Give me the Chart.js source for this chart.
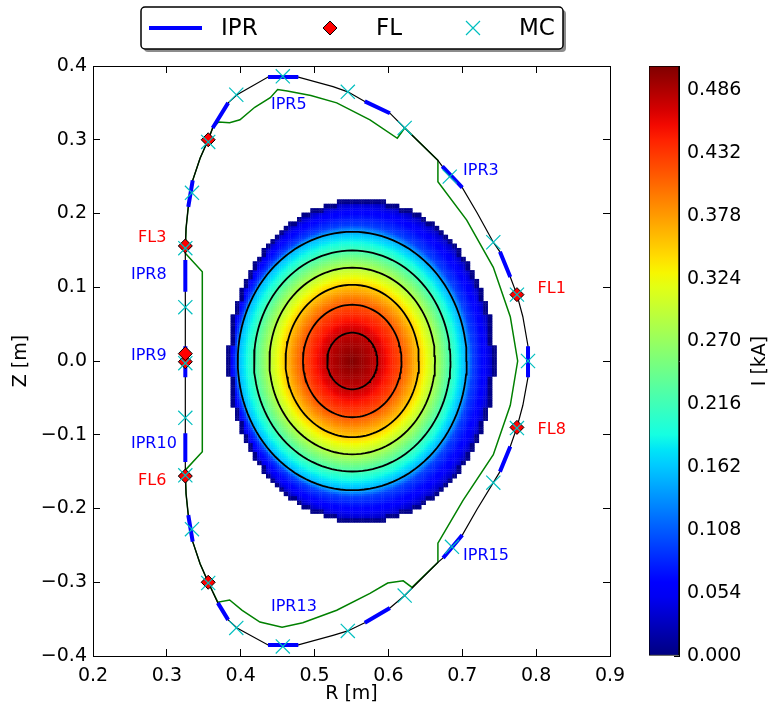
<!DOCTYPE html>
<html>
<head>
<meta charset="utf-8">
<script src="https://cdn.jsdelivr.net/npm/chart.js@4.4.0/dist/chart.umd.min.js"></script>
<style>
  html, body { margin: 0; padding: 0; background: #fff; }
  #wrap { position: relative; width: 771px; height: 713px; }
  #wrap canvas { position: absolute; left: 0; top: 0; }
</style>
</head>
<body>
<div id="wrap">
  <canvas id="fluxChart" width="771" height="713"></canvas>
  <canvas id="colorBar" width="771" height="713"></canvas>
</div>
<script>
// ---- data (R, Z in metres, I in kA) ----
const rTicks = [0.2, 0.3, 0.4, 0.5, 0.6, 0.7, 0.8, 0.9];
const zTicks = [-0.4, -0.3, -0.2, -0.1, 0.0, 0.1, 0.2, 0.3, 0.4];
const cbTicks = [0.000, 0.054, 0.108, 0.162, 0.216, 0.270, 0.324, 0.378, 0.432, 0.486];
const cbMax = 0.5066;

// vacuum vessel (black)
const vesselR = [0.789, 0.789, 0.782, 0.774, 0.765, 0.751, 0.742, 0.720, 0.700, 0.683, 0.673, 0.667, 0.622, 0.602, 0.568, 0.545, 0.525, 0.478, 0.437, 0.395, 0.383, 0.362, 0.356, 0.345, 0.335, 0.329, 0.326, 0.325, 0.325, 0.325, 0.326, 0.329, 0.335, 0.345, 0.356, 0.369, 0.383, 0.395, 0.437, 0.478, 0.525, 0.545, 0.568, 0.602, 0.622, 0.667, 0.674, 0.686, 0.700, 0.720, 0.742, 0.751, 0.765, 0.774, 0.782, 0.789, 0.789];
const vesselZ = [0.000, 0.020, 0.060, 0.090, 0.114, 0.148, 0.161, 0.201, 0.235, 0.250, 0.264, 0.272, 0.316, 0.336, 0.352, 0.365, 0.372, 0.385, 0.385, 0.361, 0.350, 0.316, 0.300, 0.275, 0.245, 0.209, 0.180, 0.156, 0.000, -0.156, -0.180, -0.209, -0.245, -0.275, -0.300, -0.328, -0.351, -0.362, -0.385, -0.385, -0.372, -0.366, -0.355, -0.335, -0.318, -0.273, -0.267, -0.252, -0.236, -0.201, -0.165, -0.150, -0.116, -0.090, -0.060, -0.022, 0.000];

// first wall / limiter (green)
const limiterR = [0.775, 0.765, 0.742, 0.706, 0.667, 0.667, 0.622, 0.612, 0.575, 0.530, 0.495, 0.463, 0.450, 0.440, 0.419, 0.399, 0.385, 0.370, 0.362, 0.356, 0.345, 0.335, 0.329, 0.326, 0.325, 0.348, 0.348, 0.325, 0.326, 0.329, 0.335, 0.345, 0.356, 0.369, 0.385, 0.402, 0.426, 0.456, 0.484, 0.530, 0.575, 0.599, 0.620, 0.632, 0.667, 0.667, 0.701, 0.742, 0.765, 0.775];
const limiterZ = [0.000, 0.060, 0.127, 0.191, 0.243, 0.272, 0.316, 0.302, 0.327, 0.350, 0.360, 0.366, 0.368, 0.357, 0.344, 0.327, 0.323, 0.324, 0.316, 0.300, 0.275, 0.245, 0.209, 0.180, 0.146, 0.121, -0.123, -0.148, -0.180, -0.209, -0.245, -0.275, -0.300, -0.327, -0.324, -0.338, -0.354, -0.361, -0.355, -0.338, -0.315, -0.301, -0.298, -0.307, -0.273, -0.247, -0.189, -0.127, -0.060, 0.000];

// partial Rogowski coils IPR1..IPR16 (start / end of each segment)
const iprStartR = [0.789, 0.765, 0.700, 0.602, 0.478, 0.383, 0.335, 0.325, 0.325, 0.325, 0.329, 0.369, 0.437, 0.568, 0.674, 0.751];
const iprStartZ = [-0.022, 0.114, 0.235, 0.336, 0.385, 0.350, 0.245, 0.137, 0.020, -0.098, -0.209, -0.328, -0.385, -0.355, -0.267, -0.150];
const iprEndR = [0.789, 0.751, 0.673, 0.568, 0.437, 0.362, 0.329, 0.325, 0.325, 0.325, 0.335, 0.383, 0.478, 0.602, 0.700, 0.765];
const iprEndZ = [0.020, 0.148, 0.264, 0.352, 0.385, 0.316, 0.209, 0.094, -0.022, -0.137, -0.245, -0.351, -0.385, -0.335, -0.236, -0.116];

// flux loops
const flR = [0.774, 0.356, 0.325, 0.325, 0.325, 0.325, 0.356, 0.774];
const flZ = [0.090, 0.300, 0.156, -0.001, 0.010, -0.156, -0.300, -0.090];

// magnetic coils
const mcR = [0.789, 0.774, 0.742, 0.683, 0.622, 0.545, 0.457, 0.394, 0.356, 0.334, 0.325, 0.325, 0.325, 0.325, 0.325, 0.334, 0.356, 0.394, 0.457, 0.545, 0.622, 0.686, 0.742, 0.774];
const mcZ = [0.000, 0.090, 0.161, 0.250, 0.316, 0.365, 0.386, 0.361, 0.297, 0.228, 0.153, 0.073, -0.003, -0.077, -0.155, -0.228, -0.301, -0.362, -0.387, -0.366, -0.318, -0.252, -0.165, -0.091];

// plasma current: black contours (ellipses) and their levels
const plasmaR0 = 0.551;
const contourA = [0.0340, 0.0667, 0.0903, 0.1121, 0.1330, 0.1550];
const contourB = [0.0384, 0.0763, 0.1033, 0.1265, 0.1498, 0.1752];
const contourLevels = [0.478, 0.418, 0.354, 0.288, 0.218, 0.150];
const peakCurrent = 0.506;
// outer band between last contour and the grid edge
const edgeR0 = 0.5635, edgeA = 0.181, edgeB = 0.220;
const edgeFrac = [0, 0.2, 0.6, 0.85, 1];
const edgeCurrent = [0.150, 0.095, 0.060, 0.035, 0.015];
const rimCurrent = 0.004;
const cellSize = 0.006;

const sensorLabels = [
  { text: 'IPR5', r: 0.441, z: 0.348, color: '#0000ff' },
  { text: 'IPR3', r: 0.701, z: 0.258, color: '#0000ff' },
  { text: 'FL1', r: 0.802, z: 0.098, color: '#ff0000' },
  { text: 'FL3', r: 0.261, z: 0.167, color: '#ff0000' },
  { text: 'IPR8', r: 0.2514, z: 0.117, color: '#0000ff' },
  { text: 'IPR9', r: 0.2514, z: 0.007, color: '#0000ff' },
  { text: 'IPR10', r: 0.2514, z: -0.113, color: '#0000ff' },
  { text: 'FL6', r: 0.261, z: -0.162, color: '#ff0000' },
  { text: 'FL8', r: 0.802, z: -0.094, color: '#ff0000' },
  { text: 'IPR15', r: 0.701, z: -0.264, color: '#0000ff' },
  { text: 'IPR13', r: 0.441, z: -0.334, color: '#0000ff' }
];

// ---- helpers ----
Chart.defaults.font.family = '"DejaVu Sans", sans-serif';
Chart.defaults.color = '#000';

const jetR = [[0, 0], [0.35, 0], [0.66, 1], [0.89, 1], [1, 0.5]];
const jetG = [[0, 0], [0.125, 0], [0.375, 1], [0.64, 1], [0.91, 0], [1, 0]];
const jetB = [[0, 0.5], [0.11, 1], [0.34, 1], [0.65, 0], [1, 0]];
function interp(xs, ys, x) {
  if (x <= xs[0]) return ys[0];
  for (let i = 1; i < xs.length; i++) {
    if (x <= xs[i]) return ys[i - 1] + (ys[i] - ys[i - 1]) * (x - xs[i - 1]) / (xs[i] - xs[i - 1]);
  }
  return ys[ys.length - 1];
}
function chan(tab, t) { return interp(tab.map(p => p[0]), tab.map(p => p[1]), t); }
function jet(t) {
  t = Math.min(1, Math.max(0, t));
  return 'rgb(' + Math.round(255 * chan(jetR, t)) + ',' + Math.round(255 * chan(jetG, t)) + ',' + Math.round(255 * chan(jetB, t)) + ')';
}

const nC = contourA.length;
const profileRho = [0].concat(contourA.map(a => a / contourA[nC - 1]));
const profileI = [peakCurrent].concat(contourLevels);
function plasmaCurrent(r, z) {
  const rhoIn = Math.hypot((r - plasmaR0) / contourA[nC - 1], z / contourB[nC - 1]);
  if (rhoIn <= 1) return interp(profileRho, profileI, rhoIn);
  const rhoOut = Math.hypot((r - edgeR0) / edgeA, z / edgeB);
  const f = (1 - 1 / rhoIn) / (1 / rhoOut - 1 / rhoIn);
  return interp(edgeFrac, edgeCurrent, f);
}

// grid cells of the current map (coarse mask, 2x2 sub-cells for a smooth fill)
const inGrid = (i, j) => ((i * cellSize) / edgeA) ** 2 + ((j * cellSize) / edgeB) ** 2 <= 1;
const plasmaPts = [], plasmaColors = [];
for (let i = -32; i <= 32; i++) {
  for (let j = -38; j <= 38; j++) {
    if (!inGrid(i, j)) continue;
    const rim = !inGrid(i - 1, j) || !inGrid(i + 1, j) || !inGrid(i, j - 1) || !inGrid(i, j + 1);
    const rc = edgeR0 + i * cellSize, zc = j * cellSize;
    for (const di of [-0.25, 0.25]) {
      for (const dj of [-0.25, 0.25]) {
        const r = rc + di * cellSize, z = zc + dj * cellSize;
        plasmaPts.push({ x: r, y: z });
        plasmaColors.push(jet((rim ? rimCurrent : plasmaCurrent(r, z)) / cbMax));
      }
    }
  }
}

const contourPts = [];
contourA.forEach((a, k) => {
  for (let s = 0; s <= 120; s++) {
    const th = 2 * Math.PI * s / 120;
    contourPts.push({ x: plasmaR0 + a * Math.cos(th), y: contourB[k] * Math.sin(th) });
  }
  contourPts.push({ x: null, y: null });
});

const iprPts = [];
iprStartR.forEach((r, i) => {
  iprPts.push({ x: r, y: iprStartZ[i] }, { x: iprEndR[i], y: iprEndZ[i] }, { x: null, y: null });
});

const toPts = (rs, zs) => rs.map((r, i) => ({ x: r, y: zs[i] }));
const fmt1 = v => v.toFixed(1).replace('-', '\u2212');

function frameAxis(position, ticks, showLabels) {
  const horizontal = position === 'top' || position === 'bottom';
  return {
    type: 'linear',
    position: position,
    min: horizontal ? 0.2 : -0.4,
    max: horizontal ? 0.9 : 0.4,
    afterBuildTicks: s => { s.ticks = ticks.map(v => ({ value: v })); },
    afterFit: s => {
      const size = showLabels ? (horizontal ? 57 : 93) : 0;
      if (horizontal) s.height = size; else s.width = size;
    },
    ticks: {
      display: showLabels,
      font: { size: 19 },
      padding: horizontal ? 16 : 13,
      callback: v => fmt1(v)
    },
    grid: { drawOnChartArea: false, drawTicks: true, tickLength: -7, color: '#000', lineWidth: 1 },
    border: { display: true, color: '#000', width: 1 },
    title: showLabels ? {
      display: true,
      text: horizontal ? 'R [m]' : 'Z [m]',
      font: { size: 19 },
      padding: horizontal ? { top: 0, bottom: 7.6 } : { top: 9.6, bottom: 0 }
    } : { display: false }
  };
}

const sensorLabelPlugin = {
  id: 'sensorLabels',
  afterDatasetsDraw(chart) {
    const { ctx, scales } = chart;
    ctx.save();
    ctx.font = '16px "DejaVu Sans"';
    ctx.textAlign = 'left';
    ctx.textBaseline = 'middle';
    sensorLabels.forEach(l => {
      ctx.fillStyle = l.color;
      ctx.fillText(l.text, scales.x.getPixelForValue(l.r), scales.y.getPixelForValue(l.z));
    });
    ctx.restore();
  }
};

const legendBoxPlugin = {
  id: 'legendBox',
  afterDraw(chart) {
    const ctx = chart.ctx;
    const bx = 141, by = 7, bw = 422, bh = 42;
    ctx.save();
    // shadow
    ctx.fillStyle = 'rgba(0,0,0,0.45)';
    ctx.beginPath();
    ctx.roundRect(bx + 3, by + 3, bw, bh, 4);
    ctx.fill();
    // frame
    ctx.fillStyle = '#fff';
    ctx.strokeStyle = '#000';
    ctx.lineWidth = 1.5;
    ctx.beginPath();
    ctx.roundRect(bx, by, bw, bh, 4);
    ctx.fill();
    ctx.stroke();
    const cy = by + bh / 2;
    // IPR
    ctx.strokeStyle = '#0000ff';
    ctx.lineWidth = 4;
    ctx.beginPath();
    ctx.moveTo(149, cy);
    ctx.lineTo(202, cy);
    ctx.stroke();
    // FL
    ctx.fillStyle = '#ff0000';
    ctx.strokeStyle = '#000';
    ctx.lineWidth = 1;
    ctx.beginPath();
    ctx.moveTo(330 - 7, cy);
    ctx.lineTo(330, cy - 7);
    ctx.lineTo(330 + 7, cy);
    ctx.lineTo(330, cy + 7);
    ctx.closePath();
    ctx.fill();
    ctx.stroke();
    // MC
    ctx.strokeStyle = '#00bfbf';
    ctx.lineWidth = 1.2;
    ctx.beginPath();
    ctx.moveTo(473 - 7, cy - 7); ctx.lineTo(473 + 7, cy + 7);
    ctx.moveTo(473 + 7, cy - 7); ctx.lineTo(473 - 7, cy + 7);
    ctx.stroke();
    ctx.fillStyle = '#000';
    ctx.font = '23px "DejaVu Sans"';
    ctx.textAlign = 'left';
    ctx.textBaseline = 'middle';
    ctx.fillText('IPR', 221, cy + 1);
    ctx.fillText('FL', 376, cy + 1);
    ctx.fillText('MC', 519, cy + 1);
    ctx.restore();
  }
};

new Chart(document.getElementById('fluxChart'), {
  type: 'scatter',
  data: {
    datasets: [
      { label: 'MC', data: toPts(mcR, mcZ), pointStyle: 'crossRot', pointRadius: 10, borderColor: '#00bfbf', backgroundColor: '#00bfbf', borderWidth: 1.2 },
      { label: 'FL', data: toPts(flR, flZ), pointStyle: 'rectRot', pointRadius: 7, backgroundColor: '#ff0000', borderColor: '#000', borderWidth: 1 },
      { label: 'IPR', data: iprPts, showLine: true, spanGaps: false, borderColor: '#0000ff', borderWidth: 4, borderCapStyle: 'butt', pointRadius: 0 },
      { label: 'vessel', data: toPts(vesselR, vesselZ), showLine: true, borderColor: '#000', borderWidth: 1.2, pointRadius: 0 },
      { label: 'limiter', data: toPts(limiterR, limiterZ), showLine: true, borderColor: '#008000', borderWidth: 1.5, pointRadius: 0 },
      { label: 'contours', data: contourPts, showLine: true, spanGaps: false, borderColor: '#000', borderWidth: 1.8, pointRadius: 0 },
      { label: 'current', data: plasmaPts, pointStyle: 'rect', pointRadius: 1.85, backgroundColor: plasmaColors, borderWidth: 0 }
    ]
  },
  options: {
    responsive: false,
    animation: false,
    events: [],
    layout: { padding: { left: 0, right: 161, top: 66, bottom: 0 } },
    plugins: { legend: { display: false }, tooltip: { enabled: false } },
    scales: {
      x: frameAxis('bottom', rTicks, true),
      y: frameAxis('left', zTicks, true),
      x2: frameAxis('top', rTicks, false),
      y2: frameAxis('right', zTicks, false)
    }
  },
  plugins: [sensorLabelPlugin, legendBoxPlugin]
});

// ---- colour bar ----
function jetGradient(chart) {
  const area = chart.chartArea;
  if (!area) return jet(0.5);
  const g = chart.ctx.createLinearGradient(0, area.bottom, 0, area.top);
  for (let k = 0; k <= 40; k++) g.addColorStop(k / 40, jet(k / 40));
  return g;
}

new Chart(document.getElementById('colorBar'), {
  type: 'bar',
  data: {
    labels: ['I'],
    datasets: [{
      data: [[0, cbMax]],
      backgroundColor: c => jetGradient(c.chart),
      borderColor: '#000',
      borderWidth: 1,
      borderSkipped: false,
      barPercentage: 1,
      categoryPercentage: 1
    }]
  },
  options: {
    responsive: false,
    animation: false,
    events: [],
    layout: { padding: { left: 649, right: 0, top: 66, bottom: 57 } },
    plugins: { legend: { display: false }, tooltip: { enabled: false } },
    scales: {
      x: { display: false },
      y: {
        position: 'right',
        min: 0,
        max: cbMax,
        afterBuildTicks: s => { s.ticks = cbTicks.map(v => ({ value: v })); },
        afterFit: s => { s.width = 92; },
        ticks: { font: { size: 19 }, padding: 13, callback: v => v.toFixed(3) },
        grid: { drawOnChartArea: false, tickLength: -5, color: '#000' },
        border: { display: true, color: '#000', width: 1 }
      }
    }
  },
  plugins: [{
    id: 'cbTitle',
    afterDraw(chart) {
      const { ctx, chartArea } = chart;
      ctx.save();
      ctx.translate(chartArea.right + 81, (chartArea.top + chartArea.bottom) / 2);
      ctx.rotate(-Math.PI / 2);
      ctx.font = '19px "DejaVu Sans"';
      ctx.textAlign = 'center';
      ctx.textBaseline = 'middle';
      ctx.fillText('I [kA]', 0, 0);
      ctx.restore();
    }
  }]
});
</script>
</body>
</html>
